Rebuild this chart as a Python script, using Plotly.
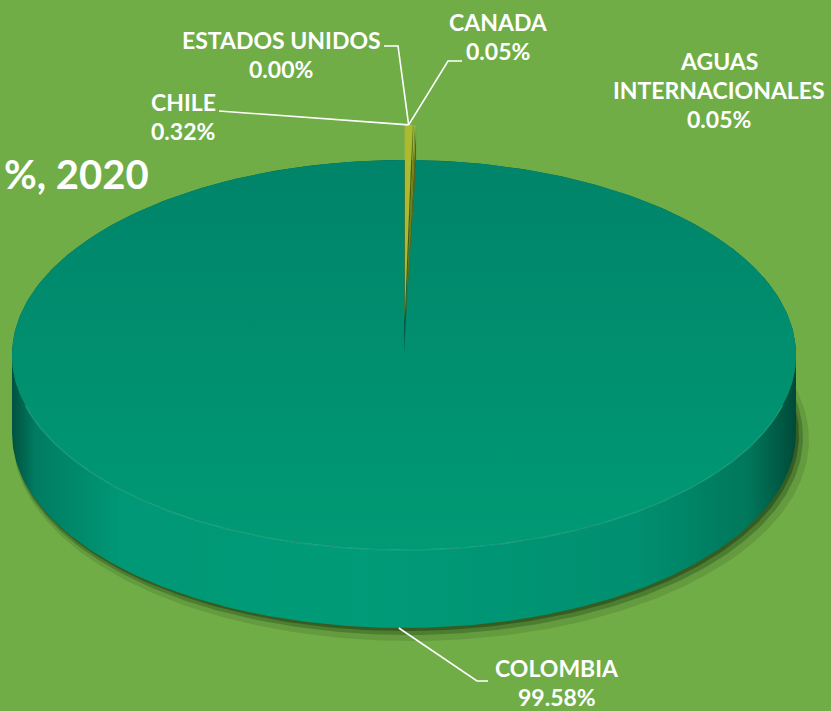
import numpy as np
import plotly.graph_objects as go

# ---------------- data ----------------
countries = ["CHILE", "ESTADOS UNIDOS", "CANADA", "AGUAS INTERNACIONALES", "COLOMBIA"]
label_lines = [["CHILE"], ["ESTADOS UNIDOS"], ["CANADA"], ["AGUAS", "INTERNACIONALES"], ["COLOMBIA"]]
shares = [0.32, 0.00, 0.05, 0.05, 99.58]
title_text = "%, 2020"

# ---------------- geometry / style ----------------
W, HGT = 831, 711
BG = "#70AD47"
CX, CY, A, B, DEPTH = 404, 355, 392, 195, 78
EXPLODE = 0.18
FONT = "Lato"
top_colors = {"CHILE": "#ABBA2E", "ESTADOS UNIDOS": "#8FA524", "CANADA": "#C2C23A", "AGUAS INTERNACIONALES": "#9DB030"}
wall_colors = {"CHILE": "#4F5A0E", "ESTADOS UNIDOS": "#4E5A0E", "CANADA": "#656A12", "AGUAS INTERNACIONALES": "#5A6410"}

# label placement (text line centres) and leader-line elbows
label_pos = {
    "CHILE": (183, 102),
    "ESTADOS UNIDOS": (281, 40),
    "CANADA": (498, 22),
    "AGUAS INTERNACIONALES": (719, 61),
    "COLOMBIA": (557, 668),
}
leader_elbows = {
    "CHILE": [(219, 111)],
    "ESTADOS UNIDOS": [(384, 46), (398, 46)],
    "CANADA": [(462, 61), (448, 61)],
    "COLOMBIA": [(488, 681), (477, 681)],
}
LINE_GAP = 29


def ell(theta_deg, ox=0.0, oy=0.0, depth=0.0, a=A, b=B):
    t = np.radians(theta_deg)
    return CX + ox + a * np.sin(t), CY + oy - b * np.cos(t) + depth


fig = go.Figure()


def poly(xs, ys, color, **kw):
    xs = list(xs) + [xs[0]]
    ys = list(ys) + [ys[0]]
    fig.add_trace(go.Scatter(x=xs, y=ys, mode="lines", fill="toself", fillcolor=color,
                             line=dict(width=0, color=color), hoverinfo="skip", showlegend=False, **kw))


# slice angles (clockwise from 12 o'clock)
total = sum(shares)
angles = np.cumsum([0] + [s / total * 360 for s in shares])
slices = [(countries[i], angles[i], angles[i + 1], shares[i]) for i in range(len(countries))]

# ---- shadow ----
th = np.linspace(0, 360, 361)
for grow, off, alpha in [(6, 7, 0.15), (3, 4, 0.3), (1, 2, 0.45)]:
    sx, sy = ell(th, ox=off, oy=DEPTH + off, a=A + grow, b=B + grow)
    poly(sx, sy, f"rgba(25,55,15,{alpha})")

# ---- side wall of main body (front half) ----
th_front = np.linspace(90, 270, 241)
tx, ty = ell(th_front)
bx, by = ell(th_front[::-1], depth=DEPTH)
fig.add_trace(go.Scatter(
    x=list(tx) + list(bx) + [tx[0]], y=list(ty) + list(by) + [ty[0]], mode="lines", fill="toself",
    line=dict(width=0), hoverinfo="skip", showlegend=False,
    fillgradient=dict(type="horizontal", start=CX - A, stop=CX + A,
                      colorscale=[[0, "#00523F"], [0.03, "#007C62"], [0.14, "#009876"], [0.45, "#009B78"],
                                  [0.8, "#008F70"], [0.94, "#00775B"], [1, "#004A38"]])))

# dark filler under the top face (visible in the wedge gap)
fx, fy = ell(th)
poly(fx, fy, "#005E48")

# ---- main slice top face ----
colombia_mid = 180.0
for name, a0, a1, v in slices:
    if name != "COLOMBIA":
        continue
    arc = np.linspace(a0, a1, 721)
    ax_, ay_ = ell(arc)
    xs = [CX] + list(ax_) + [CX]
    ys = [CY] + list(ay_) + [CY]
    fig.add_trace(go.Scatter(
        x=xs, y=ys, mode="lines", fill="toself", line=dict(width=0), hoverinfo="skip", showlegend=False,
        fillgradient=dict(type="vertical", start=CY - B, stop=CY + B,
                          colorscale=[[0, "#00846A"], [0.5, "#008F6F"], [1, "#009A75"]])))
    colombia_mid = (a0 + a1) / 2

# subtle rim highlight on front edge
rx, ry = ell(np.linspace(105, 255, 200))
fig.add_trace(go.Scatter(x=rx, y=ry, mode="lines", line=dict(color="rgba(90,200,165,0.35)", width=1.2),
                         hoverinfo="skip", showlegend=False))

# ---- exploded small slices ----
small_anchor = None
for name, a0, a1, v in slices:
    if name == "COLOMBIA" or v <= 0:
        continue
    mid = (a0 + a1) / 2
    ox = EXPLODE * A * np.sin(np.radians(mid))
    oy = -EXPLODE * B * np.cos(np.radians(mid))
    apx, apy = CX + ox, CY + oy
    ex, ey = ell(a1, ox, oy)
    # radial wall at trailing edge (visible sliver only)
    poly([apx, ex, ex], [apy, ey, ey + DEPTH * 0.5], wall_colors[name])
    arc = np.linspace(a0, a1, 20)
    ax_, ay_ = ell(arc, ox, oy)
    poly([apx] + list(ax_), [apy] + list(ay_), top_colors[name])
    if small_anchor is None:
        small_anchor = ell(mid, ox, oy)

# ---- leader lines ----
col_anchor = ell(colombia_mid, depth=DEPTH)
for name, pts in leader_elbows.items():
    if name == "COLOMBIA":
        path = [col_anchor, pts[1], pts[0]]
    else:
        path = pts + [small_anchor]
    fig.add_trace(go.Scatter(x=[p[0] for p in path], y=[p[1] for p in path], mode="lines",
                             line=dict(color="white", width=1.6), hoverinfo="skip", showlegend=False))

# ---- labels ----
annotations = []
for name, lines, v in zip(countries, label_lines, shares):
    x0, y0 = label_pos[name]
    for k, txt in enumerate(lines + [f"{v:.2f}%"]):
        annotations.append(dict(x=x0, y=y0 + k * LINE_GAP, xref="x", yref="y", text=txt, showarrow=False,
                                xanchor="center", yanchor="middle",
                                font=dict(family=FONT, size=23, color="white", weight="bold")))
annotations.append(dict(x=2, y=174, xref="x", yref="y", text=title_text, showarrow=False,
                        xanchor="left", yanchor="middle",
                        font=dict(family=FONT, size=40, color="white", weight="bold")))

fig.update_layout(
    width=W, height=HGT, margin=dict(l=0, r=0, t=0, b=0),
    paper_bgcolor=BG, plot_bgcolor=BG, showlegend=False,
    xaxis=dict(range=[0, W], visible=False, fixedrange=True),
    yaxis=dict(range=[HGT, 0], visible=False, fixedrange=True),
    annotations=annotations,
)
fig.write_html("out.html", config={"displayModeBar": False},
               post_script="document.body.style.margin='0';document.body.style.overflow='hidden';"
                           "document.documentElement.style.background='" + BG + "';")
